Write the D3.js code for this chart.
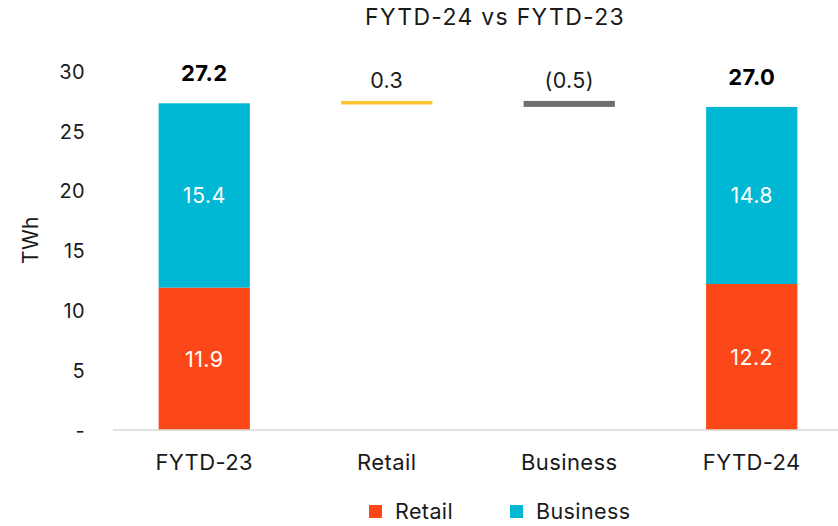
<!DOCTYPE html>
<html>
<head>
<meta charset="utf-8">
<script src="https://cdn.jsdelivr.net/npm/d3@7"></script>
<style>
  body { margin: 0; background: #fff; }
  text { font-family: Inter, "Open Sans", sans-serif; fill: #1a1a1a; letter-spacing: 0.4px; }
</style>
</head>
<body>
<svg id="chart" width="838" height="526"></svg>
<script>
var categories = ["FYTD-23", "Retail", "Business", "FYTD-24"];
var totalCats = ["FYTD-23", "FYTD-24"];
var retailValues = [11.9, 12.2];
var businessValues = [15.4, 14.8];
var totalValues = [27.2, 27.0];
var changeCats = ["Retail", "Business"];
var changeValues = [0.3, -0.5];
var yTicks = [0, 5, 10, 15, 20, 25, 30];
var legendItems = ["Retail", "Business"];

var colors = { Retail: "#fc4719", Business: "#00b8d4" };
var changeColors = ["#ffc530", "#6f6f6f"];

var svg = d3.select("#chart");
var width = 838;

var x = d3.scaleBand()
  .domain(categories)
  .range([113, 843])
  .paddingInner(0.5)
  .paddingOuter(0.25);

var y = d3.scaleLinear()
  .domain([0, 30])
  .range([430, 71]);

// title
svg.append("text")
  .attr("x", 495)
  .attr("y", 25)
  .attr("text-anchor", "middle")
  .style("font-size", "23px")
  .style("letter-spacing", "1.3px")
  .text("FYTD-24 vs FYTD-23");

// y axis labels
var yAxis = svg.append("g")
  .attr("transform", "translate(85,0)")
  .call(d3.axisLeft(y).tickValues(yTicks).tickSize(0).tickPadding(0)
    .tickFormat(d => d === 0 ? "-" : d));
yAxis.select(".domain").remove();
yAxis.selectAll("text")
  .style("font-size", "20px")
  .style("font-family", "Inter, sans-serif")
  .attr("fill", "#1a1a1a")
  .attr("dy", "0.36em");

svg.append("text")
  .attr("transform", "translate(38,240) rotate(-90)")
  .attr("text-anchor", "middle")
  .style("font-size", "21px")
  .text("TWh");

// stacked total bars
var stackRows = totalCats.map((c, i) => ({ cat: c, Retail: retailValues[i], Business: businessValues[i] }));
var series = d3.stack().keys(legendItems)(stackRows);

var groups = svg.append("g").selectAll("g")
  .data(series)
  .enter().append("g")
  .attr("fill", d => colors[d.key]);

groups.selectAll("rect")
  .data(d => d)
  .enter().append("rect")
  .attr("x", d => x(d.data.cat))
  .attr("y", d => y(d[1]))
  .attr("width", x.bandwidth())
  .attr("height", d => y(d[0]) - y(d[1]));

groups.selectAll("text.seg")
  .data(d => d)
  .enter().append("text")
  .attr("class", "seg")
  .attr("x", d => x(d.data.cat) + x.bandwidth() / 2)
  .attr("y", d => (y(d[0]) + y(d[1])) / 2)
  .attr("dy", "0.36em")
  .attr("text-anchor", "middle")
  .style("fill", "#fff")
  .style("font-size", "21.5px")
  .text(d => d3.format(".1f")(d[1] - d[0]));

// totals labels
svg.append("g").selectAll("text")
  .data(totalCats)
  .enter().append("text")
  .attr("x", c => x(c) + x.bandwidth() / 2)
  .attr("y", (c, i) => y(retailValues[i] + businessValues[i]) - 22)
  .attr("text-anchor", "middle")
  .style("font-size", "22px")
  .style("font-weight", "bold")
  .style("fill", "#000")
  .text((c, i) => d3.format(".1f")(totalValues[i]));

// waterfall changes
var running = totalValues[0];
var steps = changeValues.map((v, i) => {
  var s = { cat: changeCats[i], start: running, end: running + v, v: v, color: changeColors[i] };
  running += v;
  return s;
});

svg.append("g").selectAll("rect")
  .data(steps)
  .enter().append("rect")
  .attr("x", d => x(d.cat))
  .attr("y", d => y(Math.max(d.start, d.end)))
  .attr("width", x.bandwidth())
  .attr("height", d => Math.abs(y(d.start) - y(d.end)))
  .attr("fill", d => d.color);

svg.append("g").selectAll("text")
  .data(steps)
  .enter().append("text")
  .attr("x", d => x(d.cat) + x.bandwidth() / 2)
  .attr("y", d => y(Math.max(d.start, d.end)) - 13)
  .attr("text-anchor", "middle")
  .style("font-size", "21.5px")
  .text(d => d.v < 0 ? "(" + d3.format(".1f")(-d.v) + ")" : d3.format(".1f")(d.v));

// x axis line + labels
svg.append("line")
  .attr("x1", 113).attr("x2", width)
  .attr("y1", y(0)).attr("y2", y(0))
  .attr("stroke", "#d9d9d9")
  .attr("stroke-width", 1.5);

svg.append("g").selectAll("text")
  .data(categories)
  .enter().append("text")
  .attr("x", c => x(c) + x.bandwidth() / 2)
  .attr("y", 470)
  .attr("text-anchor", "middle")
  .style("font-size", "22px")
  .text(c => c);

// legend
var legendX = [369, 510];
var legend = svg.append("g").selectAll("g")
  .data(legendItems)
  .enter().append("g")
  .attr("transform", (d, i) => `translate(${legendX[i]},505)`);
legend.append("rect")
  .attr("width", 13).attr("height", 13)
  .attr("fill", d => colors[d]);
legend.append("text")
  .attr("x", 26)
  .attr("y", 6.5)
  .attr("dy", "0.36em")
  .style("font-size", "21.5px")
  .text(d => d);
</script>
</body>
</html>
